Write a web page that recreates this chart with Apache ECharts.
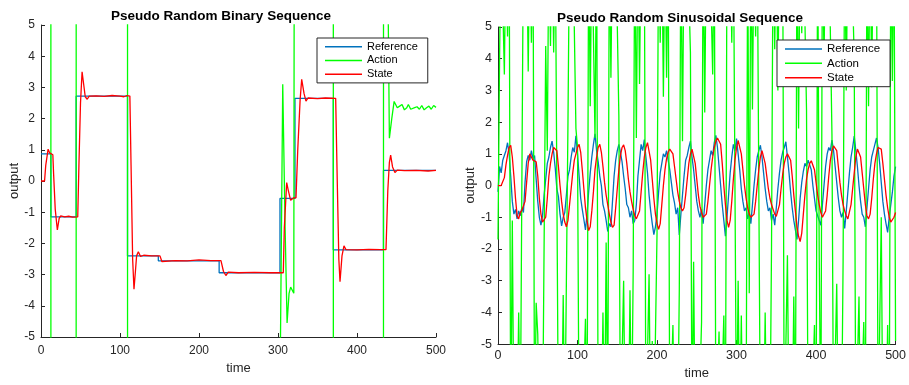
<!DOCTYPE html>
<html>
<head>
<meta charset="utf-8">
<script src="https://cdn.jsdelivr.net/npm/echarts@6/dist/echarts.min.js"></script>
<style>html,body{margin:0;padding:0;background:#fff}#c{width:909px;height:385px}</style>
</head>
<body>
<div id="c"></div>
<script>
// ---------- Left: Pseudo Random Binary Sequence ----------
const binRefTimes  = [0, 12.5, 44.5, 109.5, 148.5, 225.5, 302.5, 321.5, 370, 433.5, 500];
const binRefLevels = [0.87, -1.15, 2.72, -2.4, -2.56, -2.94, -0.56, 2.65, -2.21, 0.34, 0.34];

const binStateTimes = [0,4.5,6,9,11,12,15,16,18,20.7,23,25,27.5,30,35,40,46.5,48,50,52,54,56,58.5,61,70,80,90,100,105,109,112.5,114,116,117.7,119.5,121,123.2,126,130,140,150.6,153,155,170,185,200,215,227.8,231,234,237,250,270,290,306.7,308,311,313,316,320,322.8,325,328,330,333,335.4,338,350,360,373,375,377,378.5,381,383.5,386,400,415,430,436.7,439,441,442.6,445,448,451,460,475,490,500];
const binStateValues = [0,0,0.5,1.02,0.9,0.86,0.84,0.2,-0.9,-1.57,-1.2,-1.12,-1.08,-1.15,-1.13,-1.16,-1.15,0.5,2.5,3.5,3.1,2.7,2.62,2.72,2.73,2.71,2.74,2.72,2.7,2.74,2.72,0.5,-2.5,-3.47,-2.9,-2.4,-2.27,-2.42,-2.38,-2.4,-2.4,-2.58,-2.57,-2.55,-2.56,-2.53,-2.55,-2.55,-2.9,-3.03,-2.92,-2.94,-2.93,-2.94,-2.94,-1.5,-0.05,-0.3,-0.62,-0.54,-0.54,1.0,2.6,3.26,2.8,2.56,2.66,2.64,2.66,2.65,0.0,-2.5,-3.23,-2.4,-2.08,-2.2,-2.21,-2.19,-2.2,-2.2,-0.3,0.6,0.83,0.45,0.27,0.35,0.33,0.34,0.32,0.34];

const binActionTimes = [0,12.5,12.6,20,44.5,44.6,60,109.5,109.6,150,302.5,303,306,309,311.5,314,316,318,320,321.5,321.6,350,370,370.1,400,433.5,433.6,437,441,444,447,449,451,454,457,460,463,465,468,470,473,476,479,482,485,488,491,494,497,500];
const binActionValues = [6.0,6.0,-30,-10,-7.9,30,18.8,18.8,-30,-16.6,-20,-5.5,3.1,-1.5,-4.55,-3.6,-3.4,-3.45,-3.6,-3.6,30,18.3,18.3,-30,-15.2,-15.2,30,12,1.37,2.0,2.55,2.6,2.35,2.4,2.45,2.28,2.35,2.45,2.3,2.25,2.35,2.38,2.3,2.42,2.28,2.35,2.4,2.3,2.42,2.36];

// ---------- Right: Pseudo Random Sinusoidal Sequence (one value every 2 time steps, t = 0..500) ----------
const sinStep = 2;
const sinRef = [
 -0.2,0.6,0.4,0.8,0.75,1.1,1.35,1.0,0.3,-0.5,
 -0.9,-0.75,-1.05,-0.8,-0.95,-0.7,-0.85,0.1,0.75,0.95,
 0.8,1.1,0.85,0.95,0.2,-0.5,-1.0,-1.25,-0.95,-0.3,
 0.2,0.7,0.9,1.2,1.4,1.05,0.55,-0.1,-0.35,-0.9,
 -1.27,-1.0,-0.85,-0.3,0.3,0.5,0.9,1.2,1.05,1.57,
 1.0,0.3,-0.4,-0.75,-1.07,-1.4,-0.9,-0.2,0.4,0.9,
 1.3,1.63,1.1,0.75,0.3,0.0,-0.6,-0.8,-1.1,-1.45,
 -1.2,-1.3,-0.5,0.3,0.8,1.1,1.3,1.05,0.75,0.3,
 -0.1,-0.6,-0.7,-1.0,-0.8,-1.2,-1.1,-0.6,0.3,0.8,
 1.3,1.1,1.45,0.9,0.4,-0.3,-0.8,-1.2,-1.55,-1.3,
 -0.9,-0.2,0.4,0.7,1.0,0.9,1.1,0.8,0.5,0.1,
 -0.3,-0.55,-0.9,-0.7,-1.56,-0.9,-0.3,0.3,0.8,0.95,
 1.2,1.4,0.9,0.5,0.0,-0.5,-0.8,-1.0,-0.75,-1.2,
 -0.6,0.0,0.5,0.8,1.1,0.95,1.35,1.58,1.2,0.6,
 0.0,-0.6,-1.1,-1.6,-1.0,-0.3,0.4,0.9,1.3,1.1,
 1.48,1.0,0.5,-0.1,-0.5,-0.8,-0.7,-1.05,-0.85,-1.2,
 -0.6,0.0,0.5,0.9,1.1,1.27,0.9,0.4,-0.1,-0.5,
 -0.8,-0.7,-1.1,-0.9,-1.25,-0.7,-0.1,0.4,0.8,1.05,
 1.2,1.38,0.9,0.4,-0.2,-0.7,-1.1,-1.4,-1.7,-1.1,
 -0.4,0.1,0.45,0.7,0.6,0.8,0.85,0.5,0.0,-0.4,
 -0.8,-0.95,-1.1,-1.25,-0.6,0.0,0.6,1.0,1.2,1.1,
 1.43,1.1,0.6,0.1,-0.4,-0.8,-1.0,-0.85,-1.35,-0.8,
 -0.2,0.4,0.9,1.2,1.56,1.1,0.6,0.0,-0.5,-0.9,
 -1.0,-1.3,-0.7,-0.1,0.5,0.9,1.1,1.3,1.5,1.2,
 0.7,0.1,-0.5,-0.9,-1.2,-1.48,-1.0,-0.6,-0.2,0.3,
 0.6
];
const sinAction = [
 -1.7,4.1,8,8,3.5,8,4.7,8,-8,-1.1,
 -8,-8,-8,-4.0,-8,-8,8,8,8,3.6,
 8,4.5,8,-8,-3.7,-4.7,-8,-8,-8,-8,
 4.4,1.1,8,4.4,8,4.2,8,8,-8,-8,
 -8,-3.45,-8,-8,2.0,8,8,8,8,1.8,
 1.2,-8,-8,-8,-8,-4.2,-8,8,2.5,8,
 8,1.5,8,-8,-8,-8,-4.0,-8,-1.8,-8,
 8,3.4,8,8,8,8,2.2,-8,-8,-3.0,
 -8,-8,-8,-3.3,-8,-2.7,8,1.5,8,3.2,
 8,8,8,-8,-8,-2.8,-8,-4.9,-8,-8,
 -1.5,8,4.5,8,2.8,8,3.4,8,-8,-8,
 -4.4,-8,-8,-8,-3.3,8,1.4,8,8,8,
 8,4.2,-8,-2.4,-8,-8,-8,-8,-4.3,8,
 2.3,8,8,8,8,3.5,8,-8,-8,-4.6,
 -8,-8,-4.1,-8,8,8,8,4.5,8,8,
 -8,-3.0,-8,-4.1,-8,-8,-8,8,-3.4,8,
 2.4,8,4.7,8,8,-8,-8,-8,-4.0,-8,
 -8,-8,-1.9,8,4.3,8,3.0,8,8,8,
 -8,-8,-2.2,-8,-8,-8,-3.5,-8,8,1.8,
 8,4.8,8,8,2.4,-8,-8,-8,-8,-4.4,
 -8,8,-2.3,-8,8,3.9,8,8,8,8,
 1.6,-8,-8,-3.1,-8,-8,-8,-2.4,8,3.0,
 8,8,8,8,4.0,-8,-8,-3.5,-8,-8,
 -4.3,-8,8,2.5,8,3.1,8,8,8,-8,
 -8,-1.0,-8,-8,-8,-4.4,-8,8,3.3,8,
 -4.9
];
const sinState = [
 0,0,0,-0.05,0.25,0.65,0.95,1.2,1.27,0.9,
 0.3,-0.4,-0.95,-1.05,-0.85,-0.78,-0.75,-0.5,0.1,0.7,
 1.0,1.05,0.8,0.78,0.75,0.3,-0.4,-0.9,-1.15,-1.2,
 -1.0,-0.4,0.3,0.7,1.0,1.2,1.25,1.1,0.6,0.0,
 -0.5,-0.9,-1.15,-1.3,-1.1,-0.6,-0.1,0.4,0.8,1.0,
 1.2,1.3,1.05,0.5,-0.1,-0.7,-1.1,-1.42,-1.3,-0.8,
 -0.2,0.5,0.9,1.2,1.3,1.05,0.6,0.1,-0.3,-0.6,
 -0.9,-1.15,-1.32,-1.25,-0.7,-0.1,0.5,0.95,1.2,1.28,
 1.1,0.7,0.2,-0.2,-0.5,-0.75,-0.95,-1.05,-1.1,-0.8,
 -0.2,0.4,0.9,1.2,1.35,1.3,0.8,0.2,-0.4,-0.9,
 -1.2,-1.38,-1.2,-0.6,0.0,0.5,0.85,1.05,1.15,1.2,
 1.0,0.6,0.2,-0.2,-0.5,-0.7,-0.8,-0.7,-0.3,0.2,
 0.7,1.0,1.15,1.1,0.7,0.2,-0.3,-0.65,-0.85,-1.0,
 -1.05,-0.9,-0.5,0.0,0.5,0.9,1.2,1.4,1.5,1.55,
 1.3,0.7,0.0,-0.6,-1.1,-1.32,-1.1,-0.5,0.2,0.8,
 1.2,1.42,1.4,1.0,0.5,0.0,-0.4,-0.7,-0.9,-1.0,
 -1.05,-0.9,-0.5,0.0,0.5,0.9,1.1,1.05,0.7,0.3,
 -0.1,-0.4,-0.6,-0.75,-0.9,-0.97,-0.95,-0.6,-0.1,0.35,
 0.7,0.9,1.0,1.05,0.8,0.3,-0.3,-0.8,-1.3,-1.6,
 -1.77,-1.5,-0.9,-0.3,0.2,0.5,0.7,0.78,0.75,0.5,
 0.1,-0.3,-0.6,-0.85,-1.0,-1.05,-0.8,-0.3,0.3,0.8,
 1.1,1.25,1.3,1.1,0.6,0.1,-0.3,-0.6,-0.8,-0.95,
 -1.05,-1.0,-0.6,-0.1,0.4,0.9,1.15,1.2,0.9,0.4,
 -0.1,-0.6,-0.95,-1.05,-0.9,-0.4,0.2,0.7,1.0,1.2,
 1.25,1.15,0.7,0.2,-0.3,-0.7,-1.0,-1.15,-1.18,-1.0,
 -0.85
];

const seriesNames = ['Reference', 'Action', 'State'];
const titles = ['Pseudo Random Binary Sequence', 'Pseudo Random Sinusoidal Sequence'];
const xTicks = {min: 0, max: 500, interval: 100};
const yTicks = {min: -5, max: 5, interval: 1};

const C_REF = '#0072BD', C_ACT = '#00FF00', C_STATE = '#FF0000';
const FONT = 'Liberation Sans, Arial, Helvetica, sans-serif';
const INK = '#262626';

const pairs = (ts, vs) => ts.map((t, i) => [t, vs[i]]);
const stepped = vs => vs.map((v, i) => [i * sinStep, v]);

function xAxisCfg(gi, labelMargin, nameGap, fs) {
  return {
    gridIndex: gi, type: 'value', min: xTicks.min, max: xTicks.max, interval: xTicks.interval,
    name: 'time', nameLocation: 'middle', nameGap: nameGap,
    nameTextStyle: {fontFamily: FONT, fontSize: 13, color: INK},
    axisLine: {show: true, onZero: false, lineStyle: {color: INK, width: 1}},
    axisTick: {show: true, inside: true, length: 4, lineStyle: {color: INK}},
    axisLabel: {margin: labelMargin, fontFamily: FONT, fontSize: fs, color: INK},
    splitLine: {show: false}
  };
}
function yAxisCfg(gi, nameGap, fs) {
  return {
    gridIndex: gi, type: 'value', min: yTicks.min, max: yTicks.max, interval: yTicks.interval,
    name: 'output', nameLocation: 'middle', nameGap: nameGap,
    nameTextStyle: {fontFamily: FONT, fontSize: 13, color: INK},
    axisLine: {show: true, onZero: false, lineStyle: {color: INK, width: 1}},
    axisTick: {show: true, inside: true, length: 4, lineStyle: {color: INK}},
    axisLabel: {margin: 6, fontFamily: FONT, fontSize: fs, color: INK},
    splitLine: {show: false}
  };
}
function lineSeries(name, color, gi, data, step) {
  return {
    name: name, type: 'line', xAxisIndex: gi, yAxisIndex: gi, data: data,
    step: step || false, showSymbol: false, symbol: 'none', color: color,
    lineStyle: {color: color, width: 1.3}, clip: true, animation: false, silent: true
  };
}
function legendCfg(left, top, fs, lh) {
  return {
    data: seriesNames, left: left, top: top, orient: 'vertical',
    icon: 'rect', itemWidth: 37, itemHeight: 1.5, itemGap: 0.5, itemTextGap: 3,
    padding: [2, 10, 2, 8], backgroundColor: '#fff', borderColor: INK, borderWidth: 1,
    textStyle: {fontFamily: FONT, fontSize: fs, color: '#000', lineHeight: lh},
    selectedMode: false
  };
}

const chart = echarts.init(document.getElementById('c'), null, {renderer: 'canvas'});
chart.setOption({
  animation: false,
  backgroundColor: '#fff',
  title: [
    {text: titles[0], left: 221, top: 9, textAlign: 'center', padding: 0,
     textStyle: {fontFamily: FONT, fontSize: 13.5, fontWeight: 'bold', color: '#000'}},
    {text: titles[1], left: 680, top: 11, textAlign: 'center', padding: 0,
     textStyle: {fontFamily: FONT, fontSize: 13.5, fontWeight: 'bold', color: '#000'}}
  ],
  legend: [legendCfg(317, 38, 11, 13.3), legendCfg(777, 40, 11.5, 13.9)],
  grid: [
    {left: 41, top: 25, width: 395, height: 312, containLabel: false},
    {left: 498, top: 27, width: 403, height: 322, containLabel: false}
  ],
  xAxis: [xAxisCfg(0, 8, 21, 12), xAxisCfg(1, 5, 22, 12.5)],
  yAxis: [yAxisCfg(0, 19, 12), yAxisCfg(1, 20, 12.5)],
  series: [
    lineSeries(seriesNames[0], C_REF, 0, pairs(binRefTimes, binRefLevels), 'end'),
    lineSeries(seriesNames[1], C_ACT, 0, pairs(binActionTimes, binActionValues)),
    lineSeries(seriesNames[2], C_STATE, 0, pairs(binStateTimes, binStateValues)),
    lineSeries(seriesNames[0], C_REF, 1, stepped(sinRef)),
    lineSeries(seriesNames[1], C_ACT, 1, stepped(sinAction)),
    lineSeries(seriesNames[2], C_STATE, 1, stepped(sinState))
  ]
});
</script>
</body>
</html>
